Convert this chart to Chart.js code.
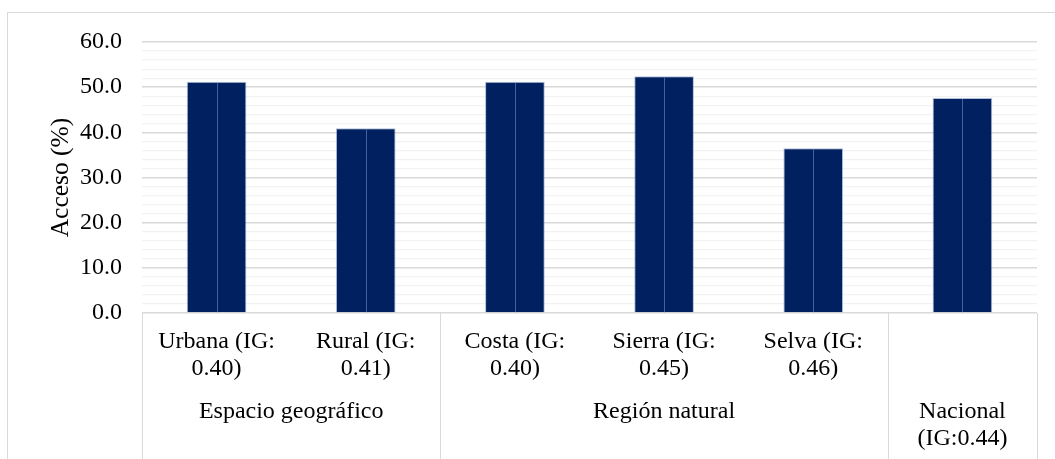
<!DOCTYPE html>
<html>
<head>
<meta charset="utf-8">
<script src="https://cdn.jsdelivr.net/npm/chart.js@4/dist/chart.umd.min.js"></script>
<style>
  html, body { margin: 0; padding: 0; background: #ffffff; }
  canvas { display: block; }
</style>
</head>
<body>
<canvas id="c" width="1055" height="459"></canvas>
<script>
// ---- Data ----
const categories = [
  ['Urbana (IG:', '0.40)'],
  ['Rural (IG:', '0.41)'],
  ['Costa (IG:', '0.40)'],
  ['Sierra (IG:', '0.45)'],
  ['Selva (IG:', '0.46)'],
  ''
];
const groupLabels = [['Espacio geográfico'], ['Región natural'], ['Nacional', '(IG:0.44)']];
const groupSizes = [2, 3, 1];
const acceso = [51.2, 40.9, 51.2, 52.4, 36.5, 47.6];
const yAxisTitle = 'Acceso (%)';
const yMin = 0, yMax = 60, yMajorStep = 10, yMinorStep = 2;

const FONT = "'Liberation Serif', 'Times New Roman', serif";
const FONT_SIZE = 24;
const LINE_H = 27;

const frame = {
  id: 'frame',
  beforeDraw(chart) {
    const ctx = chart.ctx;
    ctx.save();
    ctx.fillStyle = '#ffffff';
    ctx.fillRect(0, 0, chart.width, chart.height);
    ctx.strokeStyle = '#d9d9d9';
    ctx.lineWidth = 1;
    ctx.strokeRect(7.5, 12.5, chart.width + 20, chart.height + 20);
    ctx.restore();
  }
};

const barSplit = {
  id: 'barSplit',
  afterDatasetsDraw(chart) {
    const ctx = chart.ctx;
    const meta = chart.getDatasetMeta(0);
    ctx.save();
    ctx.strokeStyle = 'rgba(90,120,175,0.75)';
    ctx.lineWidth = 1;
    meta.data.forEach(bar => {
      const x = Math.round(bar.x) + 0.5;
      ctx.beginPath();
      ctx.moveTo(x, bar.y + 1);
      ctx.lineTo(x, bar.base);
      ctx.stroke();
    });
    ctx.restore();
  }
};

const groupAxis = {
  id: 'groupAxis',
  afterDraw(chart) {
    const ctx = chart.ctx;
    const xs = chart.scales.x;
    const n = categories.length;
    const half = (xs.getPixelForValue(1) - xs.getPixelForValue(0)) / 2;
    const top = xs.top;
    ctx.save();
    ctx.strokeStyle = '#d9d9d9';
    ctx.lineWidth = 1;
    const bounds = [xs.left];
    let idx = 0;
    groupSizes.forEach(s => {
      idx += s;
      bounds.push(idx >= n ? xs.right : xs.getPixelForValue(idx) - half);
    });
    bounds.forEach(b => {
      const x = Math.round(b) + 0.5;
      ctx.beginPath();
      ctx.moveTo(x, top);
      ctx.lineTo(x, chart.height + 2);
      ctx.stroke();
    });
    ctx.fillStyle = '#000000';
    ctx.font = FONT_SIZE + 'px ' + FONT;
    ctx.textAlign = 'center';
    ctx.textBaseline = 'middle';
    const y0 = top + 15.5 + LINE_H * 2.5 + 16;
    groupLabels.forEach((lines, g) => {
      const cx = (bounds[g] + bounds[g + 1]) / 2;
      lines.forEach((t, i) => ctx.fillText(t, cx, y0 + i * LINE_H));
    });
    ctx.restore();
  }
};

new Chart(document.getElementById('c'), {
  type: 'bar',
  data: {
    labels: categories,
    datasets: [{
      label: yAxisTitle,
      data: acceso,
      backgroundColor: '#002060',
      borderColor: 'rgba(110,140,190,0.55)',
      borderWidth: 1,
      categoryPercentage: 0.4,
      barPercentage: 1.0
    }]
  },
  options: {
    responsive: false,
    animation: false,
    devicePixelRatio: 1,
    layout: { padding: { left: 0, right: 18, top: 42, bottom: 0 } },
    plugins: { legend: { display: false }, tooltip: { enabled: false } },
    scales: {
      x: {
        grid: { display: false, drawTicks: false },
        border: { display: false },
        ticks: {
          autoSkip: false,
          maxRotation: 0,
          minRotation: 0,
          padding: 15.5,
          color: '#000000',
          font: { family: FONT, size: FONT_SIZE, lineHeight: LINE_H / FONT_SIZE }
        },
        afterFit(scale) { scale.height = 146; }
      },
      y: {
        min: yMin,
        max: yMax,
        border: { display: false },
        grid: {
          drawTicks: false,
          color: c => (c.tick && c.tick.value % yMajorStep === 0) ? '#d9d9d9' : '#f2f2f2',
          lineWidth: c => (c.tick && c.tick.value % yMajorStep === 0) ? 1.4 : 1.2
        },
        ticks: {
          stepSize: yMinorStep,
          maxTicksLimit: 100,
          autoSkip: false,
          padding: 20,
          color: '#000000',
          font: { family: FONT, size: FONT_SIZE, lineHeight: LINE_H / FONT_SIZE },
          callback: v => (v % yMajorStep === 0) ? v.toFixed(1) : ''
        },
        title: {
          display: true,
          text: yAxisTitle,
          color: '#000000',
          font: { family: FONT, size: 25.5, lineHeight: 1.2 },
          padding: { top: 46, bottom: 0 }
        },
        afterFit(scale) { scale.width = 142; }
      }
    }
  },
  plugins: [frame, barSplit, groupAxis]
});
</script>
</body>
</html>
